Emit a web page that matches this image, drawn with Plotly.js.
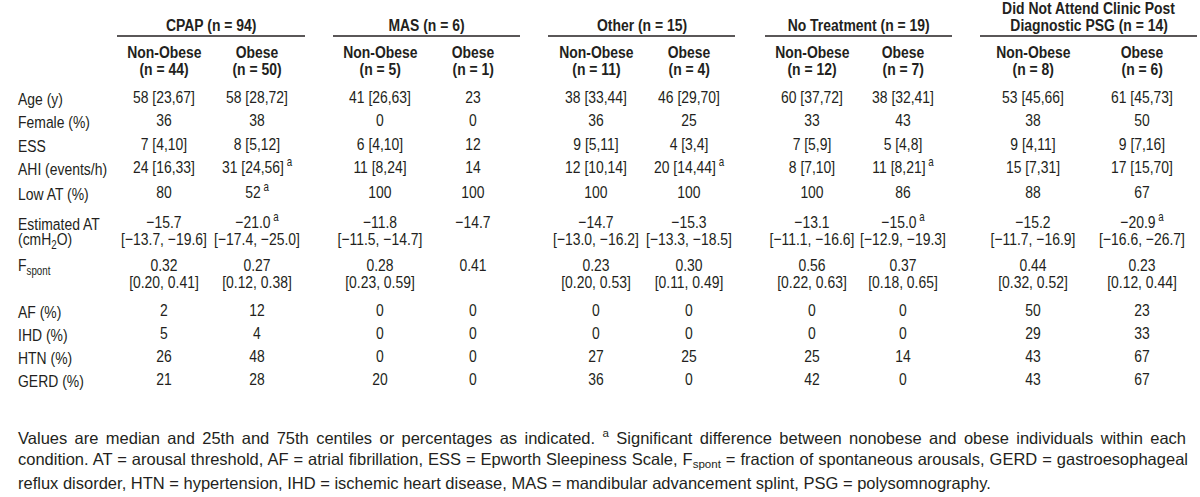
<!DOCTYPE html>
<html>
<head>
<meta charset="utf-8">
<script src="https://cdn.plot.ly/plotly-3.0.1.min.js"></script>
<style>html,body{margin:0;padding:0;background:#fff;}#chart{width:1200px;height:497px;}</style>
</head>
<body>
<div id="chart"></div>
<script>
// ---------- DATA ----------
const groupTitles = ["CPAP (n = 94)", "MAS (n = 6)", "Other (n = 15)", "No Treatment (n = 19)", "Did Not Attend Clinic Post<br>Diagnostic PSG (n = 14)"];
const subHeaders = ["Non-Obese<br>(n = 44)", "Obese<br>(n = 50)", "Non-Obese<br>(n = 5)", "Obese<br>(n = 1)", "Non-Obese<br>(n = 11)", "Obese<br>(n = 4)", "Non-Obese<br>(n = 12)", "Obese<br>(n = 7)", "Non-Obese<br>(n = 8)", "Obese<br>(n = 6)"];
const rowLabels = ["Age (y)", "Female (%)", "ESS", "AHI (events/h)", "Low AT (%)", "Estimated AT<br>(cmH<sub>2</sub>O)", "F<sub>spont</sub>", "AF (%)", "IHD (%)", "HTN (%)", "GERD (%)"];

const cpapNonObese = ["58 [23,67]", "36", "7 [4,10]", "24 [16,33]", "80", "\u221215.7<br>[\u221213.7, \u221219.6]", "0.32<br>[0.20, 0.41]", "2", "5", "26", "21"];
const cpapObese = ["58 [28,72]", "38", "8 [5,12]", "31 [24,56]<sup> a</sup>", "52<sup> a</sup>", "\u221221.0<sup> a</sup><br>[\u221217.4, \u221225.0]", "0.27<br>[0.12, 0.38]", "12", "4", "48", "28"];
const masNonObese = ["41 [26,63]", "0", "6 [4,10]", "11 [8,24]", "100", "\u221211.8<br>[\u221211.5, \u221214.7]", "0.28<br>[0.23, 0.59]", "0", "0", "0", "20"];
const masObese = ["23", "0", "12", "14", "100", "\u221214.7", "0.41", "0", "0", "0", "0"];
const otherNonObese = ["38 [33,44]", "36", "9 [5,11]", "12 [10,14]", "100", "\u221214.7<br>[\u221213.0, \u221216.2]", "0.23<br>[0.20, 0.53]", "0", "0", "27", "36"];
const otherObese = ["46 [29,70]", "25", "4 [3,4]", "20 [14,44]<sup> a</sup>", "100", "\u221215.3<br>[\u221213.3, \u221218.5]", "0.30<br>[0.11, 0.49]", "0", "0", "25", "0"];
const noTxNonObese = ["60 [37,72]", "33", "7 [5,9]", "8 [7,10]", "100", "\u221213.1<br>[\u221211.1, \u221216.6]", "0.56<br>[0.22, 0.63]", "0", "0", "25", "42"];
const noTxObese = ["38 [32,41]", "43", "5 [4,8]", "11 [8,21]<sup> a</sup>", "86", "\u221215.0<sup> a</sup><br>[\u221212.9, \u221219.3]", "0.37<br>[0.18, 0.65]", "0", "0", "14", "0"];
const dnaNonObese = ["53 [45,66]", "38", "9 [4,11]", "15 [7,31]", "88", "\u221215.2<br>[\u221211.7, \u221216.9]", "0.44<br>[0.32, 0.52]", "50", "29", "43", "43"];
const dnaObese = ["61 [45,73]", "50", "9 [7,16]", "17 [15,70]", "67", "\u221220.9<sup> a</sup><br>[\u221216.6, \u221226.7]", "0.23<br>[0.12, 0.44]", "23", "33", "67", "67"];

const footnoteLines = [
  "Values are median and 25th and 75th centiles or percentages as indicated. <sup>a</sup> Significant difference between nonobese and obese individuals within each",
  "condition. AT = arousal threshold, AF = atrial fibrillation, ESS = Epworth Sleepiness Scale, F<sub>spont</sub> = fraction of spontaneous arousals, GERD = gastroesophageal",
  "reflux disorder, HTN = hypertension, IHD = ischemic heart disease, MAS = mandibular advancement splint, PSG = polysomnography."
];

// ---------- LAYOUT CONFIG ----------
const FONT = '"Liberation Sans", Arial, sans-serif';
const TXT = '#231f20';
const NARROW = 0.82;                 // horizontal condensing of table text (Arial Narrow look)
const bodySize = 17, headSize = 17, fnSize = 16.5;
const columns = [cpapNonObese, cpapObese, masNonObese, masObese, otherNonObese, otherObese, noTxNonObese, noTxObese, dnaNonObese, dnaObese];
const colX = [164, 257, 380, 473, 596, 689, 812, 903, 1033, 1142];
const ruleX = [[117, 305], [333, 520], [548, 735], [765, 952], [980, 1197]];
const labelX = 17;
const rowY = [99, 122, 146, 169, 194, 224, 267, 312, 335, 358, 381];
const lineStep = 17;
const groupTitleY = 25, titleStep = 17, ruleY = 36, subY = 52;
const fnY = [437, 460, 483];
const fnJustifyRight = [1185, 1187, null];

// ---------- BUILD ----------
const traces = [];
columns.forEach((col, ci) => {
  const xs = [], ys = [], ts = [];
  col.forEach((cell, ri) => {
    cell.split('<br>').forEach((ln, li) => {
      xs.push(colX[ci]); ys.push(rowY[ri] + li * lineStep); ts.push(ln);
    });
  });
  traces.push({type: 'scatter', mode: 'text', x: xs, y: ys, text: ts,
    textposition: 'middle center', hoverinfo: 'skip', showlegend: false,
    textfont: {family: FONT, size: bodySize, color: TXT}});
});

const annotations = [];
const annMeta = [];
function ann(text, x, y, anchor, size, bold, opts) {
  annotations.push({text: bold ? '<b>' + text + '</b>' : text, x: x, y: y, xref: 'x', yref: 'y',
    xanchor: anchor, yanchor: 'middle', showarrow: false, borderpad: 0,
    font: {family: FONT, size: size, color: TXT}});
  annMeta.push(Object.assign({anchor: anchor, narrow: true, justify: null}, opts || {}));
}
rowLabels.forEach((lab, ri) => {
  lab.split('<br>').forEach((ln, li) => ann(ln, labelX, rowY[ri] + li * lineStep, 'left', bodySize, false));
});
groupTitles.forEach((g, gi) => {
  const lines = g.split('<br>');
  const cx = (ruleX[gi][0] + ruleX[gi][1]) / 2;
  lines.forEach((ln, li) => ann(ln, cx, groupTitleY - (lines.length - 1 - li) * titleStep, 'center', headSize, true));
});
subHeaders.forEach((s, si) => {
  s.split('<br>').forEach((ln, li) => ann(ln, colX[si], subY + li * lineStep, 'center', headSize, true));
});
footnoteLines.forEach((ln, i) => ann(ln, labelX, fnY[i], 'left', fnSize, false, {narrow: false, justify: fnJustifyRight[i]}));

const shapes = ruleX.map(r => ({type: 'line', xref: 'x', yref: 'y', x0: r[0], x1: r[1], y0: ruleY, y1: ruleY,
  line: {color: '#231f20', width: 1.3}}));

const layout = {
  width: 1200, height: 497,
  margin: {l: 0, r: 0, t: 0, b: 0},
  paper_bgcolor: '#fff', plot_bgcolor: '#fff',
  xaxis: {range: [0, 1200], visible: false, fixedrange: true},
  yaxis: {range: [497, 0], visible: false, fixedrange: true},
  annotations: annotations, shapes: shapes, showlegend: false
};

function condense(t, mode) {
  const bb = t.getBBox();
  const px = mode === 'left' ? bb.x : bb.x + bb.width / 2;
  const prev = t.getAttribute('transform') || '';
  t.setAttribute('transform', prev + ' translate(' + px + ',0) scale(' + NARROW + ',1) translate(' + (-px) + ',0)');
}

Plotly.newPlot('chart', traces, layout, {displayModeBar: false, staticPlot: true}).then(gd => {
  gd.querySelectorAll('.textpoint text').forEach(t => condense(t, 'middle'));
  gd.querySelectorAll('g.annotation').forEach(g => {
    const idx = +g.getAttribute('data-index');
    const t = g.querySelector('text.annotation-text');
    if (!t) return;
    const meta = annMeta[idx] || {anchor: 'center', narrow: true};
    if (meta.justify) {
      const bb0 = t.getBBox();
      const nSp = (t.textContent.match(/ /g) || []).length;
      const want = meta.justify - labelX;
      if (nSp > 0) t.style.wordSpacing = ((want - bb0.width) / nSp) + 'px';
      const bb1 = t.getBBox();
      const prev = t.getAttribute('transform') || '';
      t.setAttribute('transform', prev + ' translate(' + (bb0.x - bb1.x) + ',0)');
    }
    if (meta.narrow) condense(t, meta.anchor === 'left' ? 'left' : 'middle');
  });
});
</script>
</body>
</html>
